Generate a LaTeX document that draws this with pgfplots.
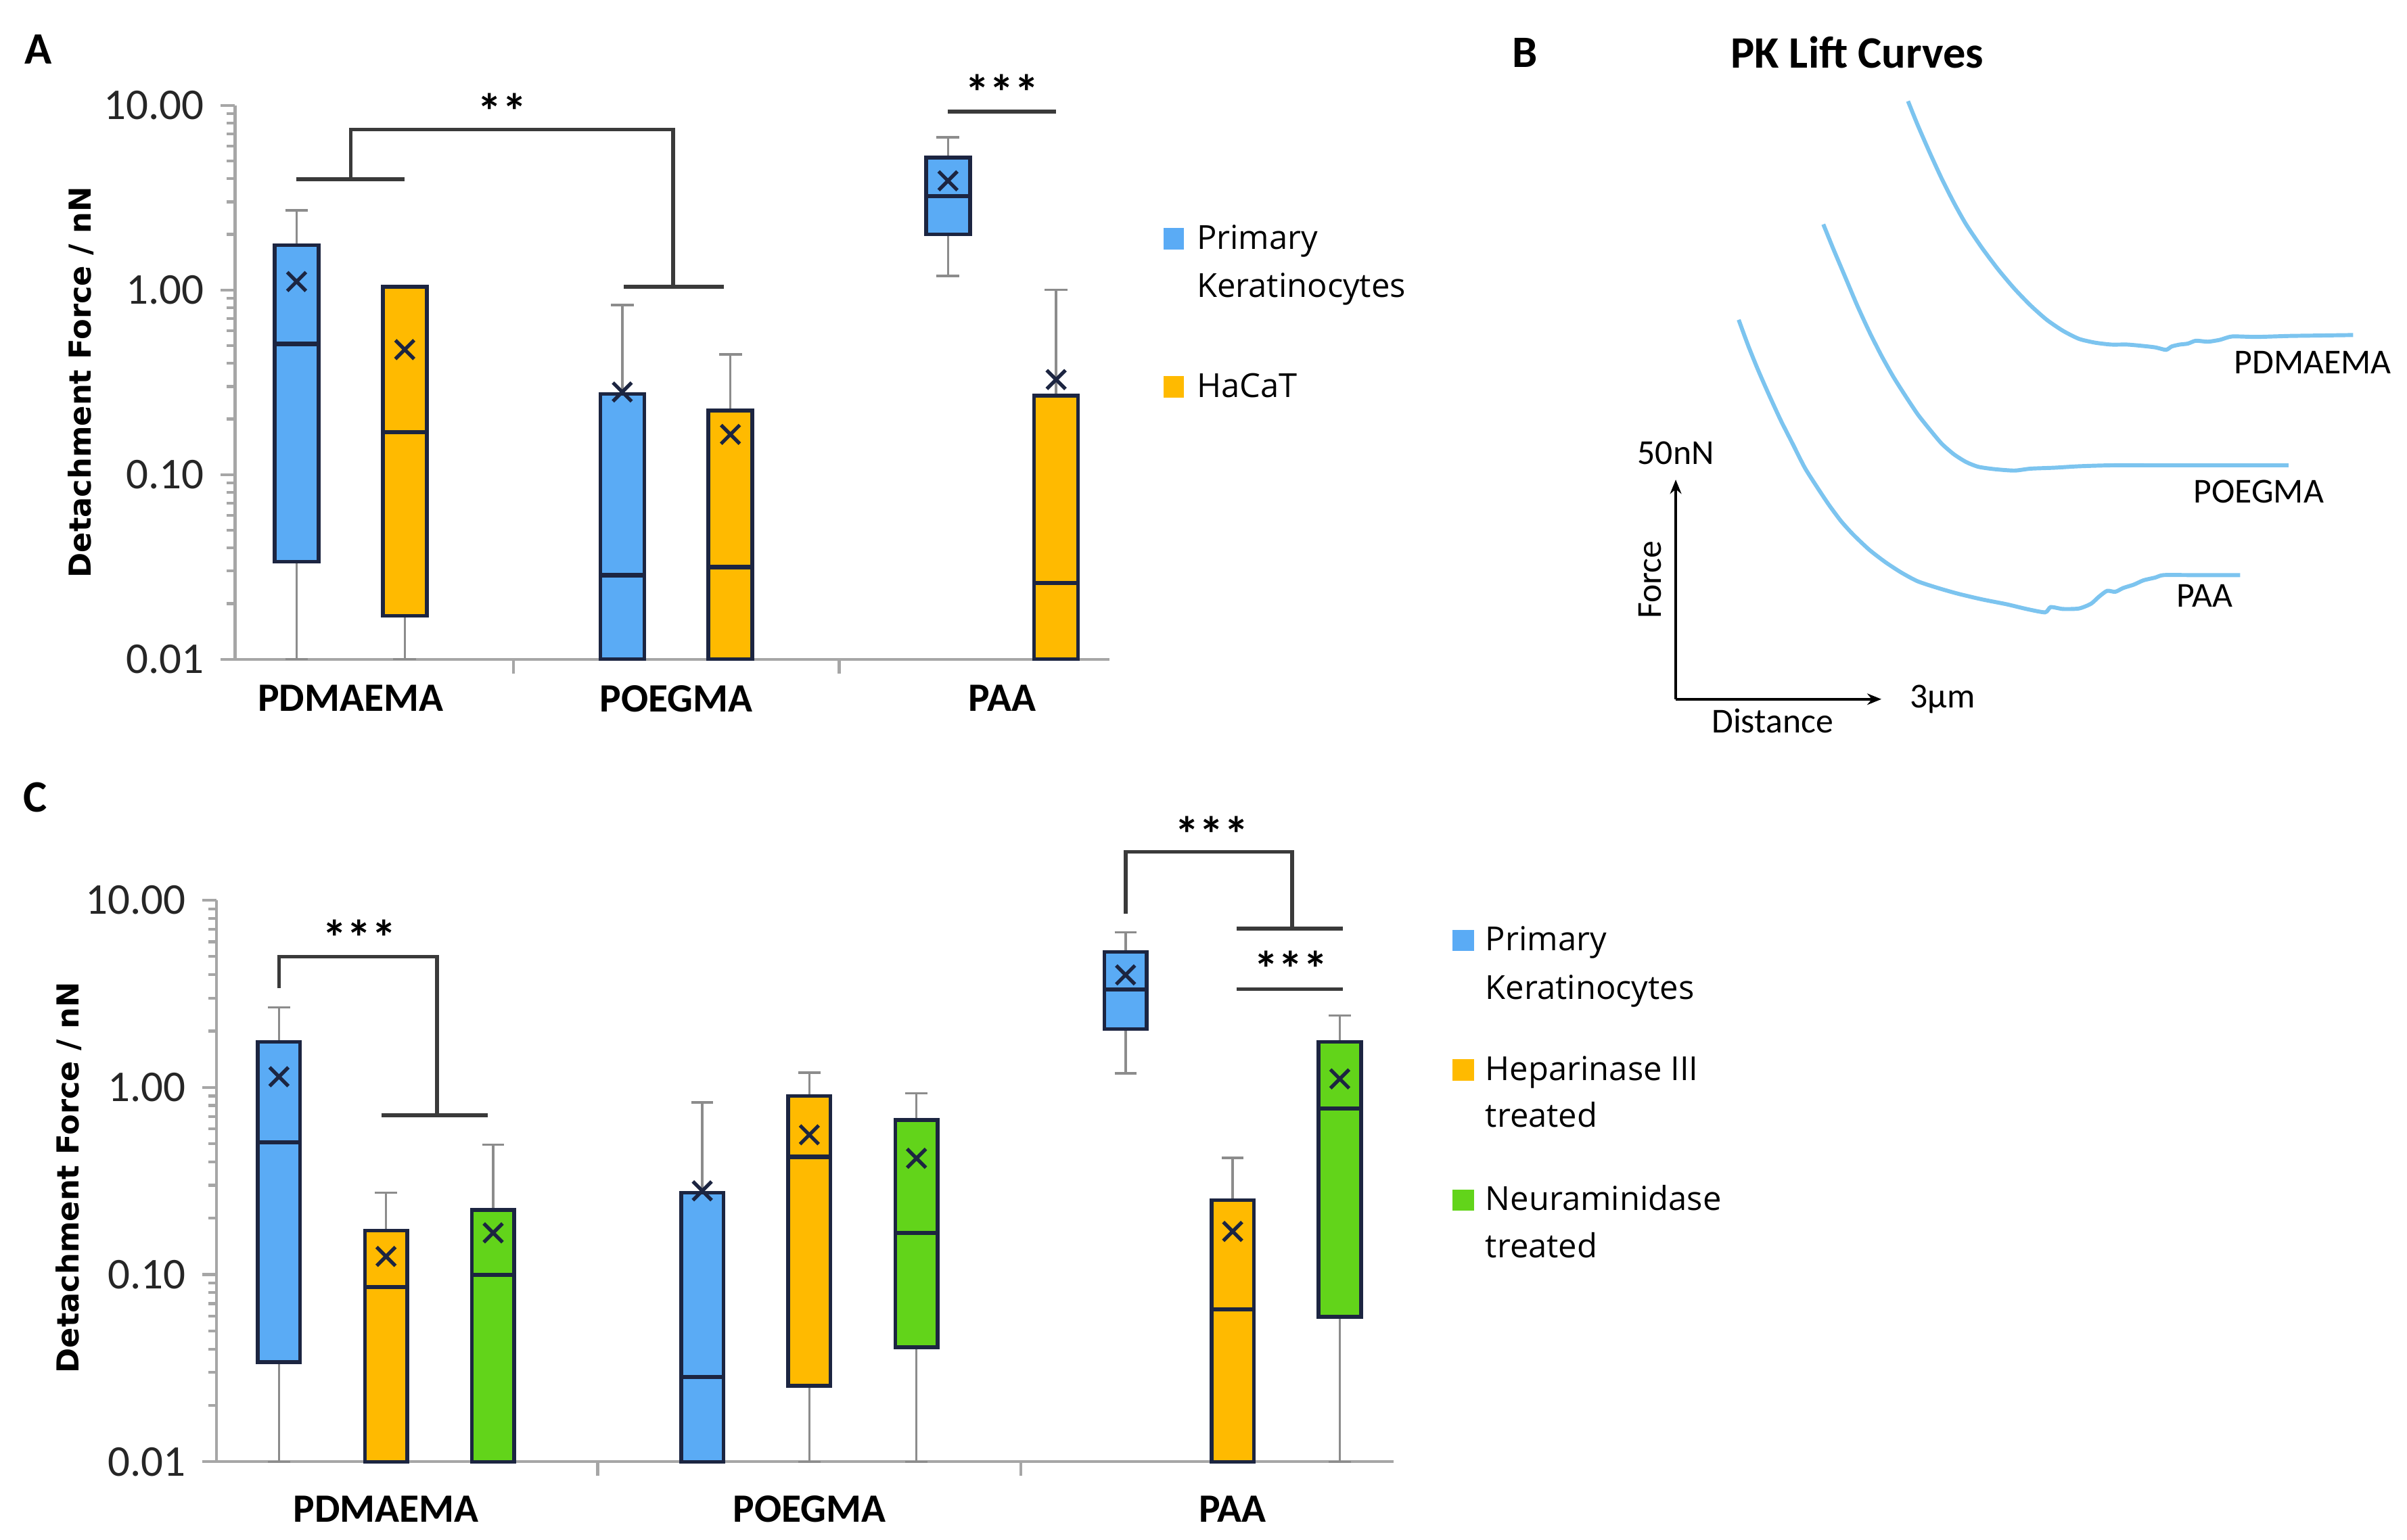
\documentclass[border=0pt]{standalone}
\usepackage{pgfplots}
\pgfplotsset{compat=1.18}
\usetikzlibrary{arrows.meta}
\usepackage{fontspec}
\setmainfont{Carlito}
\newfontfamily\osans{Open Sans}
\newfontfamily\dejavu{DejaVu Sans}

\definecolor{pkblue}{HTML}{5AABF5}
\definecolor{hcorange}{HTML}{FFBA00}
\definecolor{nmgreen}{HTML}{62D41A}
\definecolor{boxedge}{HTML}{1C2541}
\definecolor{whisk}{HTML}{8C8C8C}
\definecolor{axgray}{HTML}{A6A6A6}
\definecolor{curveblue}{HTML}{7CC4EF}
\definecolor{brk}{HTML}{3A3A3A}

\pgfplotsset{
  meanx/.style={only marks, mark=x, mark size=2.8pt, color=boxedge,
    mark options={line width=0.75pt}},
}
\newcommand{\catfont}{\bfseries\fontsize{8.5}{10}\selectfont}
\newcommand{\starfont}{\bfseries\fontsize{10.5}{12}\selectfont}
\newcommand{\tickfont}{\fontsize{9.3}{10}\selectfont}
\newcommand{\labfont}{\dejavu\bfseries\fontsize{6.4}{7}\selectfont}

% one box: position, lower whisker, lower quartile, median, upper quartile, upper whisker, colour
% \bw = half box width, \cw = half cap width (set per axis)
\newcommand{\bx}[7]{%
  \pgfmathsetmacro\xl{#1-\bw}\pgfmathsetmacro\xr{#1+\bw}%
  \pgfmathsetmacro\cl{#1-\cw}\pgfmathsetmacro\cr{#1+\cw}%
  \addplot[whisk, line width=0.5pt] coordinates {(#1,#2) (#1,#3)};
  \addplot[whisk, line width=0.5pt] coordinates {(#1,#5) (#1,#6)};
  \addplot[whisk, line width=0.5pt] coordinates {(\cl,#6) (\cr,#6)};
  \addplot[whisk, line width=0.5pt] coordinates {(\cl,#2) (\cr,#2)};
  \addplot[fill=#7, draw=boxedge, line width=0.8pt] coordinates
    {(\xl,#3) (\xr,#3) (\xr,#5) (\xl,#5)} -- cycle;
  \addplot[boxedge, line width=0.9pt] coordinates {(\xl,#4) (\xr,#4)};
}

\begin{document}
\begin{tikzpicture}
\path (0,0) rectangle (17.789,11.447);

% ---------------- panel A ----------------
\def\bw{0.0675}\def\cw{0.035}
\begin{axis}[at={(1.747cm,6.546cm)}, anchor=south west, scale only axis,
    width=6.50cm, height=4.118cm, xmin=0.645, xmax=3.33,
    ymode=log, ymin=0.01, ymax=10, clip=false,
    axis x line*=bottom, axis y line*=left,
    axis line style={axgray, line width=0.6pt},
    ytick={0.01,0.1,1,10}, yticklabels={0.01,0.10,1.00,10.00},
    minor ytick={0.02,0.03,0.04,0.05,0.06,0.07,0.08,0.09,
                 0.2,0.3,0.4,0.5,0.6,0.7,0.8,0.9,2,3,4,5,6,7,8,9},
    yticklabel style={font=\tickfont, text=black!85},
    tick style={axgray, line width=0.6pt}, tick align=outside,
    major tick length=3pt, minor tick length=1.8pt,
    xtick={1.5,2.5}, xticklabels={},
    ylabel={Detachment Force / nN},
    ylabel style={font=\labfont, at={(axis description cs:-0.176,0.5)}, anchor=center}]
  \bx{0.834}{0.01}{0.0337}{0.51}{1.75}{2.70}{pkblue}
  \bx{1.166}{0.01}{0.0172}{0.17}{1.04}{1.05}{hcorange}
  \bx{1.834}{0.01}{0.01}{0.0285}{0.273}{0.83}{pkblue}
  \bx{2.166}{0.01}{0.01}{0.0315}{0.222}{0.448}{hcorange}
  \bx{2.834}{1.19}{2.0}{3.23}{5.2}{6.7}{pkblue}
  \bx{3.166}{0.01}{0.01}{0.0258}{0.268}{1.0}{hcorange}
  \addplot[meanx] coordinates {(0.834,1.11) (1.166,0.475) (1.834,0.28)
    (2.166,0.165) (2.834,3.9) (3.166,0.327)};
  % category names
  \node[font=\catfont, anchor=north] at (1,0.01) [yshift=-2pt] {PDMAEMA};
  \node[font=\catfont, anchor=north] at (2,0.01) [yshift=-2pt] {POEGMA};
  \node[font=\catfont, anchor=north] at (3,0.01) [yshift=-2pt] {PAA};
  % significance
  \draw[brk, line width=0.8pt] (0.834,3.98) -- (1.166,3.98);
  \draw[brk, line width=0.8pt] (1.0,3.98) -- (1.0,7.4) -- (1.99,7.4) -- (1.99,1.04);
  \draw[brk, line width=0.8pt] (1.839,1.04) -- (2.145,1.04);
  \draw[brk, line width=0.8pt] (2.834,9.25) -- (3.166,9.25);
  \node[font=\starfont] at (1.465,9.3) {**};
  \node[font=\starfont] at (3.0,11.8) {***};
\end{axis}

% ---------------- panel B ----------------
\begin{axis}[at={(8.5cm,5.947cm)}, anchor=south west, scale only axis,
    width=9.29cm, height=5.5cm, xmin=0, xmax=1550, ymin=0, ymax=1550,
    y dir=reverse, axis lines=none, clip=false]
  \addplot[curveblue, line width=0.85pt, smooth, tension=0.4] coordinates {
    (948,212) (960,262) (975,320) (990,375) (1005,425) (1020,470) (1040,520)
    (1060,565) (1080,605) (1100,640) (1120,670) (1140,693) (1160,710)
    (1180,718) (1200,722) (1220,722) (1240,725) (1255,728) (1268,733)
    (1275,726) (1285,722) (1295,720) (1305,714) (1320,716) (1335,712)
    (1350,705) (1380,706) (1420,704) (1460,703) (1500,702)};
  \addplot[curveblue, line width=0.85pt, smooth, tension=0.4] coordinates {
    (843,470) (855,520) (870,580) (885,640) (900,695) (915,745) (930,790)
    (945,830) (960,868) (975,900) (990,930) (1005,952) (1020,968) (1035,978)
    (1055,983) (1080,986) (1100,982) (1130,980) (1160,977) (1200,975)
    (1260,975) (1340,975) (1420,975)};
  \addplot[curveblue, line width=0.85pt, smooth, tension=0.4] coordinates {
    (738,670) (750,725) (762,775) (775,825) (790,880) (805,930) (820,980)
    (835,1020) (850,1058) (865,1092) (880,1120) (900,1152) (920,1178)
    (940,1200) (960,1218) (985,1232) (1010,1244) (1040,1256) (1070,1266)
    (1095,1276) (1118,1283) (1125,1272) (1140,1276) (1160,1275) (1175,1265)
    (1185,1250) (1195,1238) (1205,1240) (1215,1232) (1228,1225) (1240,1216)
    (1255,1210) (1265,1205) (1300,1205) (1360,1205)};
  % scale bars
  \draw[black, line width=0.6pt, -{Stealth[length=3pt,width=2.4pt]}] (660,1465) -- (660,1005);
  \draw[black, line width=0.6pt, -{Stealth[length=3pt,width=2.4pt]}] (660,1465) -- (915,1465);
  \begin{scope}[font=\fontsize{7.4}{9}\selectfont]
    \node at (660,950) {50nN};
    \node[rotate=90] at (628,1215) {Force};
    \node at (780,1510) {Distance};
    \node[anchor=west] at (930,1465) {3µm};
    \node at (1450,760) {PDMAEMA};
    \node at (1383,1030) {POEGMA};
    \node at (1316,1248) {PAA};
  \end{scope}
  \node[font=\bfseries\fontsize{9.5}{11}\selectfont] at (473,110) {B};
  \node[font=\bfseries\fontsize{9.5}{11}\selectfont] at (885,110) {PK Lift Curves};
\end{axis}

% ---------------- panel C ----------------
\def\bw{0.05}\def\cw{0.026}
\begin{axis}[at={(1.611cm,0.579cm)}, anchor=south west, scale only axis,
    width=8.747cm, height=4.175cm, xmin=0.6, xmax=3.38,
    ymode=log, ymin=0.01, ymax=10, clip=false,
    axis x line*=bottom, axis y line*=left,
    axis line style={axgray, line width=0.6pt},
    ytick={0.01,0.1,1,10}, yticklabels={0.01,0.10,1.00,10.00},
    minor ytick={0.02,0.03,0.04,0.05,0.06,0.07,0.08,0.09,
                 0.2,0.3,0.4,0.5,0.6,0.7,0.8,0.9,2,3,4,5,6,7,8,9},
    yticklabel style={font=\tickfont, text=black!85},
    tick style={axgray, line width=0.6pt}, tick align=outside,
    major tick length=3pt, minor tick length=1.8pt,
    xtick={1.5,2.5}, xticklabels={},
    ylabel={Detachment Force / nN},
    ylabel style={font=\labfont, at={(axis description cs:-0.126,0.506)}, anchor=center}]
  \bx{0.747}{0.01}{0.034}{0.51}{1.75}{2.67}{pkblue}
  \bx{1.0}{0.01}{0.01}{0.0858}{0.172}{0.274}{hcorange}
  \bx{1.253}{0.01}{0.01}{0.0995}{0.221}{0.495}{nmgreen}
  \bx{1.747}{0.01}{0.01}{0.0283}{0.274}{0.83}{pkblue}
  \bx{2.0}{0.01}{0.0254}{0.425}{0.90}{1.2}{hcorange}
  \bx{2.253}{0.01}{0.041}{0.167}{0.67}{0.93}{nmgreen}
  \bx{2.747}{1.19}{2.05}{3.33}{5.3}{6.75}{pkblue}
  \bx{3.0}{0.01}{0.01}{0.0653}{0.25}{0.42}{hcorange}
  \bx{3.253}{0.01}{0.0596}{0.77}{1.75}{2.42}{nmgreen}
  \addplot[meanx] coordinates {(0.747,1.14) (1.0,0.125) (1.253,0.167)
    (1.747,0.28) (2.0,0.558) (2.253,0.418) (2.747,3.99) (3.0,0.17) (3.253,1.11)};
  % category names
  \node[font=\catfont, anchor=north] at (1,0.01) [yshift=-3.7pt] {PDMAEMA};
  \node[font=\catfont, anchor=north] at (2,0.01) [yshift=-3.7pt] {POEGMA};
  \node[font=\catfont, anchor=north] at (3,0.01) [yshift=-3.7pt] {PAA};
  % significance
  \draw[brk, line width=0.8pt] (0.747,3.4) -- (0.747,5.0) -- (1.12,5.0) -- (1.12,0.71);
  \draw[brk, line width=0.8pt] (0.99,0.71) -- (1.24,0.71);
  \draw[brk, line width=0.8pt] (2.747,8.5) -- (2.747,18.1) -- (3.14,18.1) -- (3.14,7.06);
  \draw[brk, line width=0.8pt] (3.01,7.06) -- (3.26,7.06);
  \draw[brk, line width=0.8pt] (3.01,3.35) -- (3.26,3.35);
  \node[font=\starfont] at (0.937,6.3) {***};
  \node[font=\starfont] at (2.95,22.5) {***};
  \node[font=\starfont] at (3.137,4.3) {***};
\end{axis}

% panel letters and legends, in display-pixel units
\begin{scope}[x=0.011345cm,y=0.011345cm]
  \node[font=\bfseries\fontsize{9.5}{11}\selectfont] at (25,976) {A};
  \node[font=\bfseries\fontsize{9.5}{11}\selectfont] at (23,486) {C};
  \fill[pkblue] (762,845) rectangle (775,859);
  \fill[hcorange] (762,748) rectangle (775,762);
  \fill[pkblue] (951,385.6) rectangle (965,399.1);
  \fill[hcorange] (951,300.7) rectangle (965,314.9);
  \fill[nmgreen] (951,215.5) rectangle (965,229.4);
  \begin{scope}[font=\osans\fontsize{7}{8}\selectfont]
    \node[anchor=base west, inner sep=0pt] at (783,845) {Primary};
    \node[anchor=base west, inner sep=0pt] at (783,813.5) {Keratinocytes};
    \node[anchor=base west, inner sep=0pt] at (783,748) {HaCaT};
    \node[anchor=base west, inner sep=0pt] at (972,385.6) {Primary};
    \node[anchor=base west, inner sep=0pt] at (972,353.8) {Keratinocytes};
    \node[anchor=base west, inner sep=0pt] at (972,300.7) {Heparinase III};
    \node[anchor=base west, inner sep=0pt] at (972,270.2) {treated};
    \node[anchor=base west, inner sep=0pt] at (972,215.5) {Neuraminidase};
    \node[anchor=base west, inner sep=0pt] at (972,184.7) {treated};
  \end{scope}
\end{scope}
\end{tikzpicture}
\end{document}
